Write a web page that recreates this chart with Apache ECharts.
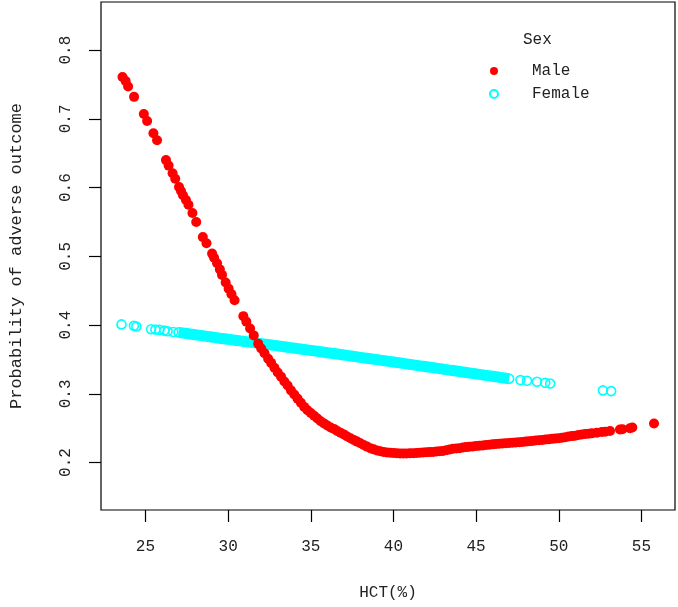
<!DOCTYPE html>
<html>
<head>
<meta charset="utf-8">
<script src="https://cdn.jsdelivr.net/npm/echarts@6/dist/echarts.min.js"></script>
<style>
  html, body { margin: 0; padding: 0; background: #fff; }
  #chart { width: 678px; height: 607px; }
</style>
</head>
<body>
<div id="chart"></div>
<script>
// HCT (%) vs predicted probability
const male = [
  [23.61, 0.761], [23.8, 0.755], [23.95, 0.747], [24.31, 0.732], [24.9, 0.707],
  [25.1, 0.697], [25.48, 0.679], [25.7, 0.669], [26.24, 0.640], [26.4, 0.632],
  [26.64, 0.621], [26.8, 0.613], [27.03, 0.601], [27.15, 0.595], [27.27, 0.589],
  [27.45, 0.582], [27.6, 0.575], [27.84, 0.563], [28.07, 0.550], [28.47, 0.528],
  [28.69, 0.519], [29.03, 0.504], [29.15, 0.498], [29.33, 0.490], [29.5, 0.481],
  [29.63, 0.473], [29.85, 0.462], [30.03, 0.453], [30.2, 0.445], [30.39, 0.436],
  [30.92, 0.413], [31.1, 0.405], [31.33, 0.395], [31.55, 0.385], [31.82, 0.373],
  [32.0, 0.366], [32.2, 0.359], [32.42, 0.351], [32.6, 0.345], [32.8, 0.338],
  [33.0, 0.331], [33.2, 0.325], [33.4, 0.318], [33.6, 0.312], [33.8, 0.305],
  [34.0, 0.299], [34.2, 0.293], [34.4, 0.287], [34.6, 0.281], [34.8, 0.276],
  [35.0, 0.272], [35.2, 0.268], [35.4, 0.264], [35.6, 0.260], [35.8, 0.257],
  [36.0, 0.254], [36.2, 0.251], [36.4, 0.249], [36.6, 0.246], [36.8, 0.2435],
  [37.0, 0.241], [37.2, 0.238], [37.4, 0.2355], [37.6, 0.233], [37.8, 0.2305],
  [38.0, 0.228], [38.2, 0.2255], [38.4, 0.2232], [38.6, 0.221], [38.8, 0.2192],
  [39.0, 0.2177], [39.2, 0.2165], [39.4, 0.2155], [39.6, 0.2148], [39.8, 0.2142],
  [40.0, 0.2138], [40.2, 0.2135], [40.4, 0.2133], [40.6, 0.2132], [40.8, 0.2133],
  [41.0, 0.2135], [41.2, 0.2137], [41.4, 0.214], [41.6, 0.2143], [41.8, 0.2147],
  [42.0, 0.215], [42.2, 0.2152], [42.4, 0.2155], [42.6, 0.216], [42.8, 0.2165],
  [43.0, 0.217], [43.2, 0.218], [43.4, 0.219], [43.6, 0.220], [43.8, 0.2205],
  [44.0, 0.221], [44.2, 0.222], [44.4, 0.2225], [44.6, 0.223], [44.8, 0.2235],
  [45.0, 0.224], [45.2, 0.2245], [45.4, 0.225], [45.6, 0.2255], [45.8, 0.226],
  [46.0, 0.2265], [46.2, 0.227], [46.4, 0.2273], [46.6, 0.2277], [46.8, 0.228],
  [47.0, 0.2285], [47.2, 0.229], [47.4, 0.2293], [47.6, 0.2297], [47.8, 0.230],
  [48.0, 0.2305], [48.2, 0.231], [48.4, 0.2315], [48.6, 0.232], [48.8, 0.2325],
  [49.0, 0.233], [49.2, 0.2335], [49.4, 0.234], [49.6, 0.2345], [49.8, 0.235],
  [50.0, 0.2355], [50.2, 0.236], [50.4, 0.237], [50.6, 0.238], [50.8, 0.2385],
  [51.0, 0.239], [51.2, 0.240], [51.4, 0.241], [51.6, 0.2415], [51.8, 0.242],
  [52.0, 0.2425], [52.3, 0.2435], [52.6, 0.2445], [52.8, 0.245], [53.1, 0.246],
  [53.7, 0.248], [53.85, 0.2485], [54.3, 0.250], [54.45, 0.251], [55.76, 0.2568]
];

const female = [
  [23.55, 0.401], [24.3, 0.399], [24.45, 0.398], [25.34, 0.394], [25.6, 0.3935],
  [25.84, 0.393], [26.14, 0.392], [26.34, 0.391], [26.68, 0.390],
  [27.0, 0.3894], [27.5, 0.3877], [28.0, 0.3860], [28.5, 0.3843], [29.0, 0.3826],
  [29.5, 0.3809], [30.0, 0.3793], [30.5, 0.3777], [31.0, 0.3761], [31.5, 0.3745],
  [32.0, 0.3729], [32.5, 0.3713], [33.0, 0.3697], [33.5, 0.3681], [34.0, 0.3665],
  [34.5, 0.3648], [35.0, 0.3632], [35.5, 0.3615], [36.0, 0.3598], [36.5, 0.3582],
  [37.0, 0.3565], [37.5, 0.3548], [38.0, 0.3531], [38.5, 0.3514], [39.0, 0.3497],
  [39.5, 0.3480], [40.0, 0.3463], [40.5, 0.3446], [41.0, 0.3429], [41.5, 0.3411],
  [42.0, 0.3394], [42.5, 0.3377], [43.0, 0.3360], [43.5, 0.3342], [44.0, 0.3325],
  [44.5, 0.3307], [45.0, 0.3290], [45.5, 0.3272], [46.0, 0.3255], [46.5, 0.3237],
  [47.0, 0.3220], [47.68, 0.320], [48.08, 0.319], [48.68, 0.3175], [49.18, 0.316],
  [49.48, 0.315], [52.67, 0.305], [53.17, 0.304]
];

// where the female points pile up into a solid band
const femaleDenseFrom = 27.0;
const femaleDenseTo = 47.0;

const xTicks = [25, 30, 35, 40, 45, 50, 55];
const yTicks = [0.2, 0.3, 0.4, 0.5, 0.6, 0.7, 0.8];

const FONT = "'Liberation Mono', 'DejaVu Sans Mono', monospace";
const TXT = "#222";

const chart = echarts.init(document.getElementById("chart"));

const option = {
  backgroundColor: "#fff",
  animation: false,
  title: {
    text: "Sex",
    left: 523,
    top: 32,
    padding: 0,
    textStyle: { fontFamily: FONT, fontSize: 16, fontWeight: "normal", color: TXT },
  },
  legend: {
    data: ["Male", "Female"],
    orient: "vertical",
    left: 489,
    top: 63,
    padding: 0,
    icon: "circle",
    itemWidth: 66,
    itemHeight: 8,
    itemGap: 7,
    selectedMode: false,
    textStyle: { fontFamily: FONT, fontSize: 16, color: TXT, lineHeight: 16 },
  },
  grid: {
    left: 94,
    right: 3,
    top: 2,
    bottom: 97,
    show: true,
    borderColor: "#000",
    borderWidth: 1.2,
    backgroundColor: "transparent",
  },
  xAxis: {
    type: "value",
    min: 22.31,
    max: 57.03,
    name: "HCT(%)",
    nameLocation: "middle",
    nameGap: 75,
    nameTextStyle: { fontFamily: FONT, fontSize: 16, color: TXT },
    axisLine: { show: false },
    splitLine: { show: false },
    axisTick: {
      show: true,
      inside: false,
      length: 12,
      customValues: xTicks,
      lineStyle: { color: "#000", width: 1.2 },
    },
    axisLabel: {
      customValues: xTicks,
      margin: 29,
      fontFamily: FONT,
      fontSize: 16,
      color: TXT,
    },
  },
  yAxis: {
    type: "value",
    min: 0.131,
    max: 0.870,
    name: "Probability of adverse outcome",
    nameLocation: "middle",
    nameRotate: 90,
    nameGap: 76,
    nameTextStyle: { fontFamily: FONT, fontSize: 17, color: TXT },
    axisLine: { show: false },
    splitLine: { show: false },
    axisTick: {
      show: true,
      inside: false,
      length: 12,
      customValues: yTicks,
      lineStyle: { color: "#000", width: 1.2 },
    },
    axisLabel: {
      customValues: yTicks,
      rotate: 90,
      margin: 27,
      fontFamily: FONT,
      fontSize: 16,
      color: TXT,
      formatter: (v) => v.toFixed(1),
    },
  },
  series: [
    {
      name: "Female band",
      type: "line",
      data: female.filter((p) => p[0] >= femaleDenseFrom && p[0] <= femaleDenseTo),
      showSymbol: false,
      silent: true,
      lineStyle: { color: "#00FFFF", width: 11, opacity: 1 },
      z: 1,
    },
    {
      name: "Female",
      type: "scatter",
      data: female,
      symbol: "circle",
      symbolSize: 9,
      itemStyle: { color: "rgba(255,255,255,0)", borderColor: "#00FFFF", borderWidth: 1.6, opacity: 1 },
      z: 2,
    },
    {
      name: "Male",
      type: "scatter",
      data: male,
      symbol: "circle",
      symbolSize: 10,
      itemStyle: { color: "#FF0000", opacity: 1 },
      z: 3,
    },
  ],
};

chart.setOption(option);
</script>
</body>
</html>
